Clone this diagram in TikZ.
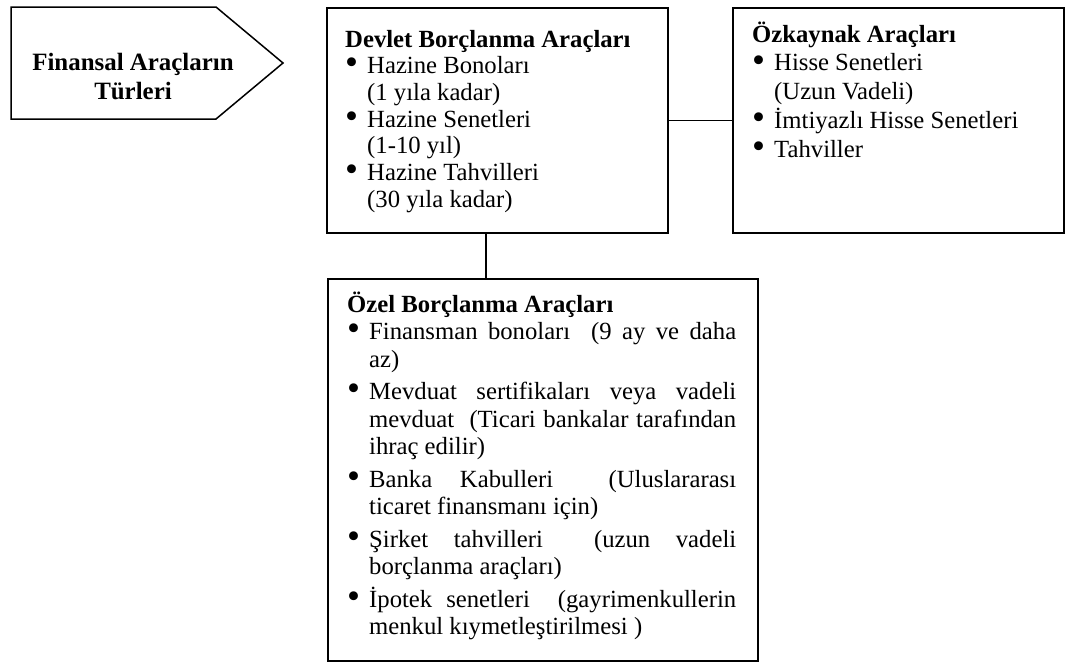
\documentclass[tikz,border=0pt]{standalone}
\usepackage{fontspec}
\setmainfont{Liberation Serif}
\newcommand{\bul}{\makebox[22pt][l]{\raisebox{-1.2pt}{\scalebox{1.5}{\textbullet}}}}
\newcommand{\ind}{\hspace*{22pt}}
\tikzset{
  box/.style={draw, line width=1.5pt, inner sep=0pt, anchor=north west},
  txt/.style={inner sep=0pt, anchor=base west},
  conn/.style={line width=1.5pt}
}
\begin{document}
\begin{tikzpicture}[x=1pt,y=-1pt]
\useasboundingbox (0,0) rectangle (1065,662);
% pentagon
\coordinate (p1) at (11,7);
\coordinate (p2) at (216,7);
\coordinate (p3) at (283,63);
\coordinate (p4) at (216,119);
\coordinate (p5) at (11,119);
\draw[line width=1.5pt, line join=miter] (p1) -- (p2) -- (p3) -- (p4) -- (p5) -- cycle;
\node[inner sep=0pt, anchor=base] (title) at (133,70)
  {\parbox[t]{260pt}{\centering\fontsize{24.9}{29}\selectfont\bfseries Finansal Araçların\\Türleri}};
% boxes
\node[box, minimum width=341pt, minimum height=225pt] (devlet) at (326,7) {};
\node[box, minimum width=331pt, minimum height=225pt] (ozk) at (732,7) {};
\node[box, minimum width=430pt, minimum height=382pt] (ozel) at (327,278) {};
% texts
\node[txt] (devtext) at (345,47) {\parbox[t]{315pt}{\raggedright\fontsize{24.7}{26.7}\selectfont
\textbf{Devlet Borçlanma Araçları}\\
\bul Hazine Bonoları\\
\ind(1 yıla kadar)\\
\bul Hazine Senetleri\\
\ind(1-10 yıl)\\
\bul Hazine Tahvilleri\\
\ind(30 yıla kadar)}};
\node[txt] (ozktext) at (752,42) {\parbox[t]{305pt}{\raggedright\fontsize{24.7}{28.8}\selectfont
\textbf{Özkaynak Araçları}\\
\bul Hisse Senetleri\\
\ind(Uzun Vadeli)\\
\bul İmtiyazlı Hisse Senetleri\\
\bul Tahviller}};
\node[txt] (ozeltext) at (347,312) {\parbox[t]{389pt}{\fontsize{24.7}{27.5}\selectfont
\parindent0pt\parskip0pt\tolerance=10000\hyphenpenalty=10000\exhyphenpenalty=10000
\textbf{Özel Borçlanma Araçları}\par
\hangindent22pt\hangafter1 \bul Finansman bonoları\ \ (9 ay ve daha\linebreak az)\par\vspace{5pt}
\hangindent22pt\hangafter1 \bul Mevduat sertifikaları veya vadeli\linebreak mevduat\ \ (Ticari bankalar tarafından\linebreak ihraç edilir)\par\vspace{5pt}
\hangindent22pt\hangafter1 \bul Banka Kabulleri\ \ (Uluslararası\linebreak ticaret finansmanı için)\par\vspace{5pt}
\hangindent22pt\hangafter1 \bul Şirket tahvilleri\ \ (uzun vadeli\linebreak borçlanma araçları)\par\vspace{5pt}
\hangindent22pt\hangafter1 \bul İpotek senetleri\ \ (gayrimenkullerin\linebreak menkul kıymetleştirilmesi )\par}};
% connectors
\coordinate (vx) at (486,0);
\draw[conn] (devlet.east) -- (ozk.west);
\draw[conn] (devlet.south -| vx) -- (ozel.north -| vx);
\end{tikzpicture}
\end{document}
